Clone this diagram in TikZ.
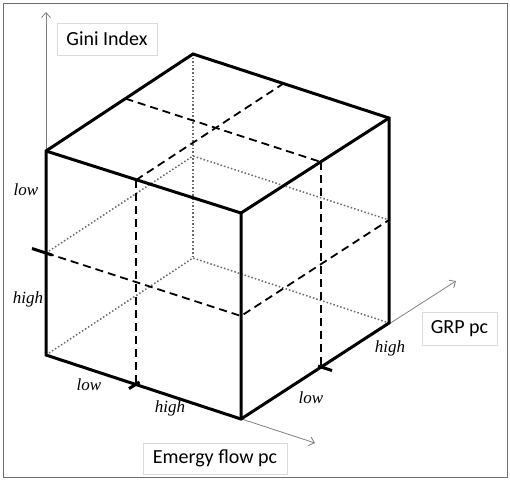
\documentclass[tikz,border=0pt]{standalone}
\usepackage{fontspec}
\setmainfont{Liberation Serif}
\newfontfamily\lblfont{Carlito}
\usetikzlibrary{arrows.meta}
\definecolor{axisgray}{HTML}{808080}
\definecolor{dotgray}{HTML}{6A6A6A}
\definecolor{boxgray}{HTML}{DADADA}
\definecolor{framegray}{HTML}{6E6E6E}
\tikzset{
  edge/.style={line width=3pt, line join=miter, line cap=butt},
  midline/.style={line width=1.8pt, dash pattern=on 8pt off 5pt},
  hidden/.style={line width=1.5pt, dotgray, dash pattern=on 1.5pt off 2.1pt},
  axisline/.style={line width=0.8pt, axisgray, -{Straight Barb[length=5pt,width=9pt,line width=0.8pt]}},
  tickmark/.style={line width=3pt},
  axlabel/.style={draw=boxgray, line width=0.9pt, fill=white, inner sep=0pt,
    font=\lblfont\fontsize{20}{24}\selectfont, text=black},
  seglabel/.style={inner sep=0pt, font=\itshape\fontsize{17}{20}\selectfont}
}
\begin{document}
\begin{tikzpicture}[x=1pt, y=-1pt]
\useasboundingbox (0,0) rectangle (510,480);
\draw[framegray, line width=1pt] (3,3) rectangle (507,477);
% cube vertices
\coordinate (A) at (46,151);
\coordinate (B) at (241,213);
\coordinate (C) at (241,419);
\coordinate (D) at (46,355);
\coordinate (E) at (193,54);
\coordinate (F) at (389,118);
\coordinate (G) at (389,323);
\coordinate (H) at (193,258);
% split points
\coordinate (Lm) at (46,253);
\coordinate (Rm) at (241,316);
\coordinate (Gm) at (389,220);
\coordinate (Hm) at (193,156);
\coordinate (P1) at (136,180);
\coordinate (P2) at (136,384);
\coordinate (P3) at (283.5,83.5);
\coordinate (Q1) at (125.4,98.6);
\coordinate (Q2) at (321,162);
\coordinate (Q3) at (321,367);
% axis ends
\coordinate (ytip) at (46,12);
\coordinate (xtip) at (315,443);
\coordinate (ztip) at (456,281);
% axes
\draw[axisline] (D) -- (ytip);
\draw[axisline] (D) -- (xtip);
\draw[axisline] (C) -- (ztip);
% hidden lines
\draw[hidden] (E) -- (H);
\draw[hidden] (D) -- (H) -- (G);
\draw[hidden] (Lm) -- (Hm) -- (Gm);
% dashed mid lines
\draw[midline] (P1) -- (P2);
\draw[midline] (Lm) -- (Rm) -- (Gm);
\draw[midline] (Q2) -- (Q3);
\draw[midline] (P1) -- (P3);
\draw[midline] (Q1) -- (Q2);
% ticks
\coordinate (t1a) at (32,248.5);
\coordinate (t1b) at (52,255);
\coordinate (t2a) at (129,388.6);
\coordinate (t2b) at (139.5,382);
\coordinate (t3a) at (318,366);
\coordinate (t3b) at (332,370.5);
\draw[tickmark] (t1a) -- (t1b);
\draw[tickmark] (t2a) -- (t2b);
\draw[tickmark] (t3a) -- (t3b);
% cube edges
\draw[edge] (D) -- (A) -- (E) -- (F) -- (G) -- (C) -- cycle;
\draw[edge] (A) -- (B) -- (C);
\draw[edge] (B) -- (F);
% axis labels
\node[axlabel, minimum width=100pt, minimum height=32pt] (gini) at (107,39) {Gini Index};
\node[axlabel, minimum width=144pt, minimum height=31pt] (emergy) at (215,458.5) {Emergy flow pc};
\node[axlabel, minimum width=75pt, minimum height=33pt] (grp) at (459.5,328.5) {GRP pc};
% segment labels
\node[seglabel] (lowL) at (26,190) {low};
\node[seglabel] (highL) at (28,299) {high};
\node[seglabel] (lowB) at (89,385) {low};
\node[seglabel] (highB) at (170,408) {high};
\node[seglabel] (lowR) at (311,398) {low};
\node[seglabel] (highR) at (390,348) {high};
\end{tikzpicture}
\end{document}
